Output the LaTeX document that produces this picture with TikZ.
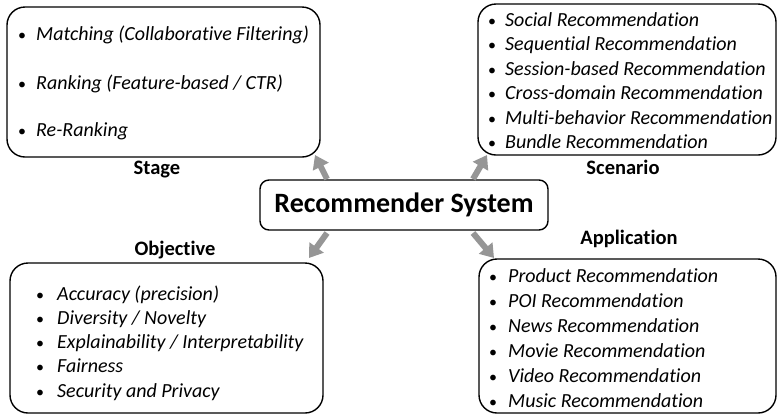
\documentclass[tikz,border=0pt]{standalone}
\usepackage{fontspec}
\setmainfont[Ligatures={NoCommon}]{Carlito}
\usetikzlibrary{arrows.meta}
\definecolor{arrowgray}{RGB}{150,150,150}
\begin{document}
\begin{tikzpicture}[x=1pt,y=-1pt,
  box/.style={draw=black, line width=1.4pt, rounded corners=18pt, inner sep=0pt},
  item/.style={anchor=base west, inner sep=0pt, font=\fontsize{20}{24}\selectfont\itshape},
  bul/.style={anchor=base, inner sep=0pt, font=\fontsize{16}{20}\selectfont},
  lbl/.style={inner sep=0pt, font=\fontsize{20.5}{24}\selectfont\bfseries},
  garrow/.style={draw=arrowgray, line width=6pt, -{Triangle[width=17pt,length=13pt]}}]
\useasboundingbox (0,0) rectangle (778,416);
% boxes
\node[box, minimum width=313pt, minimum height=150pt] (stage) at (163.5,82) {};
\node[box, minimum width=298pt, minimum height=151pt] (scen) at (627,79.5) {};
\node[box, minimum width=313pt, minimum height=150pt] (obj) at (166.5,338) {};
\node[box, minimum width=297pt, minimum height=154pt] (app) at (627.5,336) {};
\node[box, rounded corners=9pt, minimum width=288pt, minimum height=50pt,
      font=\fontsize{28}{32}\selectfont\bfseries] (rs) at (404,205) {Recommender System};
% labels
\node[lbl] (lstage) at (157,170) {Stage};
\node[lbl] (lscen) at (623,167) {Scenario};
\node[lbl] (lobj) at (175,250) {Objective};
\node[lbl] (lapp) at (629,239) {Application};
% stage items
\foreach \y/\t [count=\i] in {34/{Matching (Collaborative Filtering)},83/{Ranking (Feature-based / CTR)},130/{Re-Ranking}}{
  \node[bul] (sb\i) at (22,\y+6) {•};
  \node[item] (st\i) at (36,\y+6) {\t};
}
% scenario items
\foreach \y/\t [count=\i] in {20/{Social Recommendation},44.5/{Sequential Recommendation},69/{Session-based Recommendation},93.5/{Cross-domain Recommendation},118/{Multi-behavior Recommendation},142.5/{Bundle Recommendation}}{
  \node[bul] (cb\i) at (492,\y+6) {•};
  \node[item] (ct\i) at (505,\y+6) {\t};
}
% objective items
\foreach \y/\t [count=\i] in {294/{Accuracy (precision)},318/{Diversity / Novelty},342/{Explainability / Interpretability},366/{Fairness},391/{Security and Privacy}}{
  \node[bul] (ob\i) at (40,\y+6) {•};
  \node[item] (ot\i) at (57,\y+6) {\t};
}
% application items
\foreach \y/\t [count=\i] in {276/{Product Recommendation},301/{POI Recommendation},326/{News Recommendation},351/{Movie Recommendation},376/{Video Recommendation},401/{Music Recommendation}}{
  \node[bul] (ab\i) at (493,\y+6) {•};
  \node[item] (at\i) at (508,\y+6) {\t};
}
% arrows
\coordinate (t1) at (327,179); \coordinate (h1) at (315,155);
\coordinate (t2) at (473,179); \coordinate (h2) at (487,155);
\coordinate (t3) at (327,233); \coordinate (h3) at (309,258);
\coordinate (t4) at (473,233); \coordinate (h4) at (494,258);
\draw[garrow] (t1) -- (h1);
\draw[garrow] (t2) -- (h2);
\draw[garrow] (t3) -- (h3);
\draw[garrow] (t4) -- (h4);
\end{tikzpicture}
\end{document}
